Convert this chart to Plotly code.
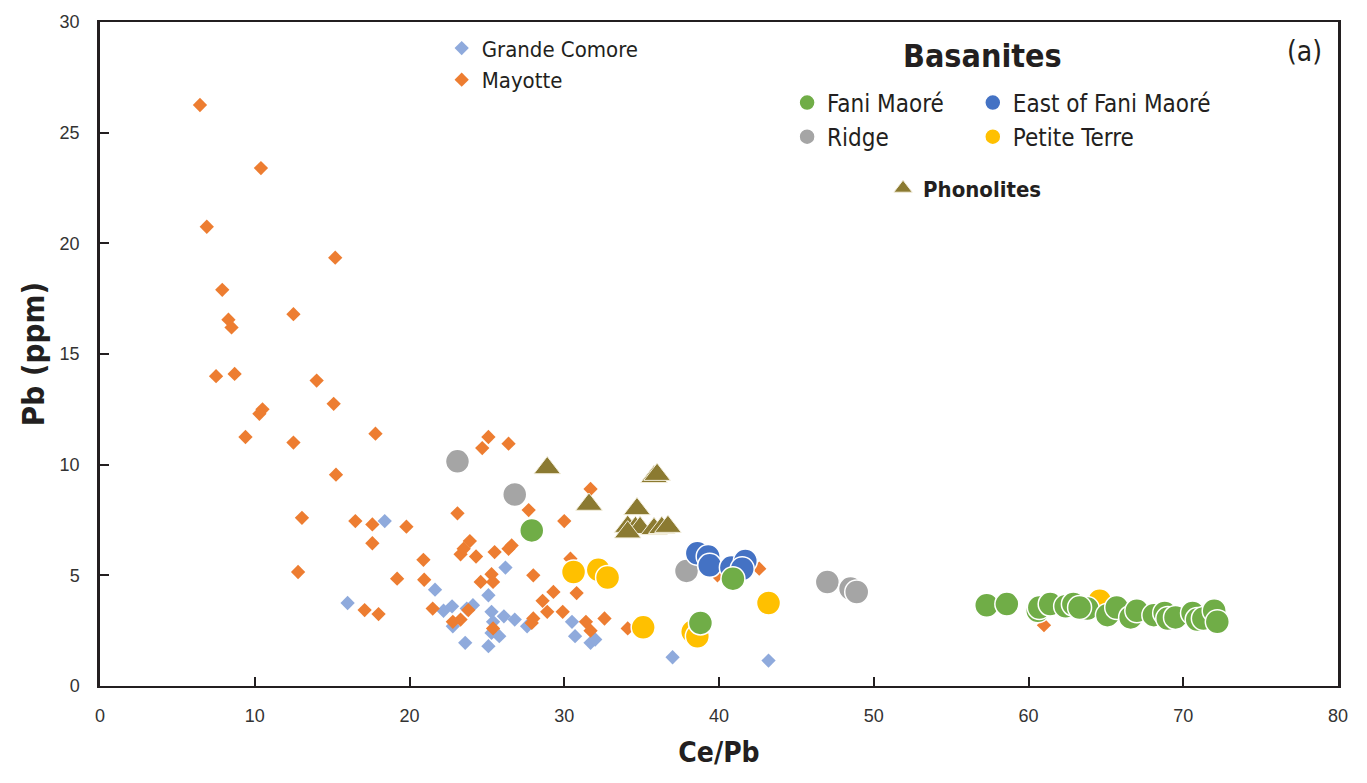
import plotly.graph_objects as go

# ---- data: Pb (ppm) against Ce/Pb ----
grande_comore_cepb = [16.0, 18.4, 21.65, 22.2, 22.75, 23.7, 24.1, 22.8, 23.6, 25.1, 25.3, 26.1, 26.8,
                      25.4, 25.3, 25.8, 25.1, 26.2, 27.6, 30.5, 30.7, 31.7, 32.0, 37.0, 43.2]
grande_comore_pb = [3.75, 7.45, 4.35, 3.4, 3.6, 3.5, 3.65, 2.7, 1.95, 4.1, 3.35, 3.15, 3.0,
                    2.9, 2.4, 2.25, 1.8, 5.35, 2.7, 2.9, 2.25, 1.95, 2.1, 1.3, 1.15]

mayotte_cepb = [6.46, 10.4, 6.9, 7.9, 15.2, 8.3, 8.5, 12.5, 7.5, 8.7, 14.0, 15.1, 10.5, 10.3, 9.4,
                12.5, 17.8, 15.25, 13.05, 12.8, 16.5, 17.6, 17.6, 19.8, 17.1, 18.0, 19.2, 23.1,
                25.1, 24.7, 26.4, 20.9, 20.95, 21.5, 23.9, 23.3, 23.5, 24.3, 25.5, 26.6, 26.4,
                27.7, 30.0, 28.0, 24.6, 25.3, 25.4, 29.3, 30.8, 28.6, 28.9, 29.9, 28.0, 27.9,
                31.4, 31.7, 32.6, 34.1, 23.8, 23.3, 22.8, 25.4, 31.7, 30.4, 39.9, 42.6, 61.0]
mayotte_pb = [26.25, 23.4, 20.75, 17.9, 19.35, 16.55, 16.2, 16.8, 14.0, 14.1, 13.8, 12.75, 12.5, 12.3,
              11.25, 11.0, 11.4, 9.55, 7.6, 5.15, 7.45, 7.3, 6.45, 7.2, 3.43, 3.25, 4.85, 7.8,
              11.25, 10.75, 10.95, 5.7, 4.8, 3.5, 6.55, 5.95, 6.2, 5.85, 6.05, 6.35, 6.2,
              7.95, 7.45, 5.0, 4.7, 5.05, 4.7, 4.25, 4.2, 3.85, 3.35, 3.35, 3.05, 2.85,
              2.9, 2.5, 3.05, 2.6, 3.43, 3.0, 2.9, 2.6, 8.9, 5.75, 5.0, 5.3, 2.75]

fani_maore_cepb = [27.9, 40.9, 38.8, 57.3, 58.6, 60.6, 60.7, 61.4, 62.4, 62.9, 63.8, 63.3, 65.1, 65.7,
                   66.6, 67.0, 68.1, 68.8, 69.0, 69.5, 70.6, 70.9, 71.3, 72.0, 72.2]
fani_maore_pb = [7.03, 4.85, 2.85, 3.65, 3.7, 3.4, 3.55, 3.7, 3.6, 3.7, 3.5, 3.55, 3.2, 3.55,
                 3.1, 3.4, 3.2, 3.3, 3.05, 3.1, 3.3, 3.0, 3.05, 3.4, 2.9]

east_fani_cepb = [38.6, 39.3, 39.4, 40.8, 41.7, 41.5]
east_fani_pb = [6.0, 5.85, 5.45, 5.35, 5.65, 5.3]

ridge_cepb = [23.1, 26.8, 37.9, 47.0, 48.5, 48.9]
ridge_pb = [10.15, 8.65, 5.2, 4.7, 4.4, 4.25]

petite_terre_cepb = [30.6, 32.2, 32.8, 35.1, 38.3, 38.6, 43.2, 64.6]
petite_terre_pb = [5.15, 5.25, 4.9, 2.65, 2.45, 2.25, 3.75, 3.85]

phonolite_cepb = [28.9, 31.6, 35.8, 36.0, 34.7, 34.1, 34.6, 34.9, 35.8, 36.3, 36.7, 34.1]
phonolite_pb = [9.85, 8.2, 9.45, 9.55, 8.0, 7.2, 7.15, 7.15, 7.1, 7.15, 7.2, 6.95]

x_ticks = [0, 10, 20, 30, 40, 50, 60, 70, 80]
y_ticks = [0, 5, 10, 15, 20, 25, 30]

INK = "#231F20"
NARROW = "Liberation Sans Narrow, DejaVu Sans Condensed, Arial Narrow, sans-serif"
REGULAR = "Liberation Sans, Arial, sans-serif"

fig = go.Figure()

# whole-rock reference fields (diamonds)
fig.add_trace(go.Scatter(
    x=grande_comore_cepb, y=grande_comore_pb, mode="markers", name="Grande Comore",
    marker=dict(symbol="diamond", size=11, color="#8FAADC", line=dict(width=0)),
    legend="legend"))
fig.add_trace(go.Scatter(
    x=mayotte_cepb, y=mayotte_pb, mode="markers", name="Mayotte",
    marker=dict(symbol="diamond", size=11, color="#ED7D31", line=dict(width=0)),
    legend="legend"))

# basanites (circles)
circle_line = dict(color="white", width=1.5)
fig.add_trace(go.Scatter(
    x=ridge_cepb, y=ridge_pb, mode="markers", name="Ridge",
    marker=dict(symbol="circle", size=24, color="#A5A5A5", line=circle_line),
    legend="legend2", legendrank=2))
fig.add_trace(go.Scatter(
    x=petite_terre_cepb, y=petite_terre_pb, mode="markers", name="Petite Terre",
    marker=dict(symbol="circle", size=24, color="#FFC000", line=circle_line),
    legend="legend3", legendrank=2))
fig.add_trace(go.Scatter(
    x=east_fani_cepb, y=east_fani_pb, mode="markers", name="East of Fani Maoré",
    marker=dict(symbol="circle", size=24, color="#4472C4", line=circle_line),
    legend="legend3", legendrank=1))
fig.add_trace(go.Scatter(
    x=fani_maore_cepb, y=fani_maore_pb, mode="markers", name="Fani Maoré",
    marker=dict(symbol="circle", size=24, color="#70AD47", line=circle_line),
    legend="legend2", legendrank=1))

# phonolites (triangles)
fig.add_trace(go.Scatter(
    x=phonolite_cepb, y=phonolite_pb, mode="markers", name="<b>Phonolites</b>",
    marker=dict(symbol="triangle-up", size=23, color="#8B7A31",
                line=dict(color="#F3EEDC", width=1)),
    legend="legend4"))

legend_common = dict(
    bgcolor="rgba(0,0,0,0)", borderwidth=0, itemsizing="trace",
    xanchor="left", yanchor="top", traceorder="normal",
)
fig.update_layout(
    width=1367, height=783,
    margin=dict(l=100, r=29, t=20, b=97),
    paper_bgcolor="white", plot_bgcolor="white",
    font=dict(family=REGULAR, color=INK),
    legend=dict(x=0.276, y=0.992, font=dict(family=NARROW, size=22, color=INK), **legend_common),
    legend2=dict(x=0.555, y=0.912, font=dict(family=NARROW, size=24, color=INK), **legend_common),
    legend3=dict(x=0.705, y=0.912, font=dict(family=NARROW, size=24, color=INK), **legend_common),
    legend4=dict(x=0.6325, y=0.781, font=dict(family=NARROW, size=22, color=INK), **legend_common),
    xaxis=dict(
        range=[0, 80], tickvals=x_ticks, ticktext=[str(v) for v in x_ticks],
        showgrid=False, zeroline=False,
        showline=True, linecolor=INK, linewidth=2, mirror=True,
        ticks="inside", ticklen=9, tickwidth=2, tickcolor=INK,
        tickfont=dict(family=REGULAR, size=18, color="#333333"),
        ticklabelstandoff=12,
        title=dict(text="<b>Ce/Pb</b>", font=dict(family=NARROW, size=28, color=INK), standoff=18),
    ),
    yaxis=dict(
        range=[0, 30], tickvals=y_ticks, ticktext=[str(v) for v in y_ticks],
        showgrid=False, zeroline=False,
        showline=True, linecolor=INK, linewidth=2.5, mirror=True,
        ticks="inside", ticklen=9, tickwidth=2, tickcolor=INK,
        tickfont=dict(family=REGULAR, size=18, color="#333333"),
        ticklabelstandoff=14,
        title=dict(text="<b>Pb (ppm)</b>", font=dict(family=NARROW, size=31, color=INK), standoff=6),
    ),
    annotations=[
        dict(text="<b>Basanites</b>", x=0.713, y=0.949, xref="paper", yref="paper",
             xanchor="center", yanchor="middle", showarrow=False,
             font=dict(family=NARROW, size=32, color=INK)),
        dict(text="(a)", x=0.973, y=0.955, xref="paper", yref="paper",
             xanchor="center", yanchor="middle", showarrow=False,
             font=dict(family=NARROW, size=28, color=INK)),
    ],
)

fig.write_html("out.html")
